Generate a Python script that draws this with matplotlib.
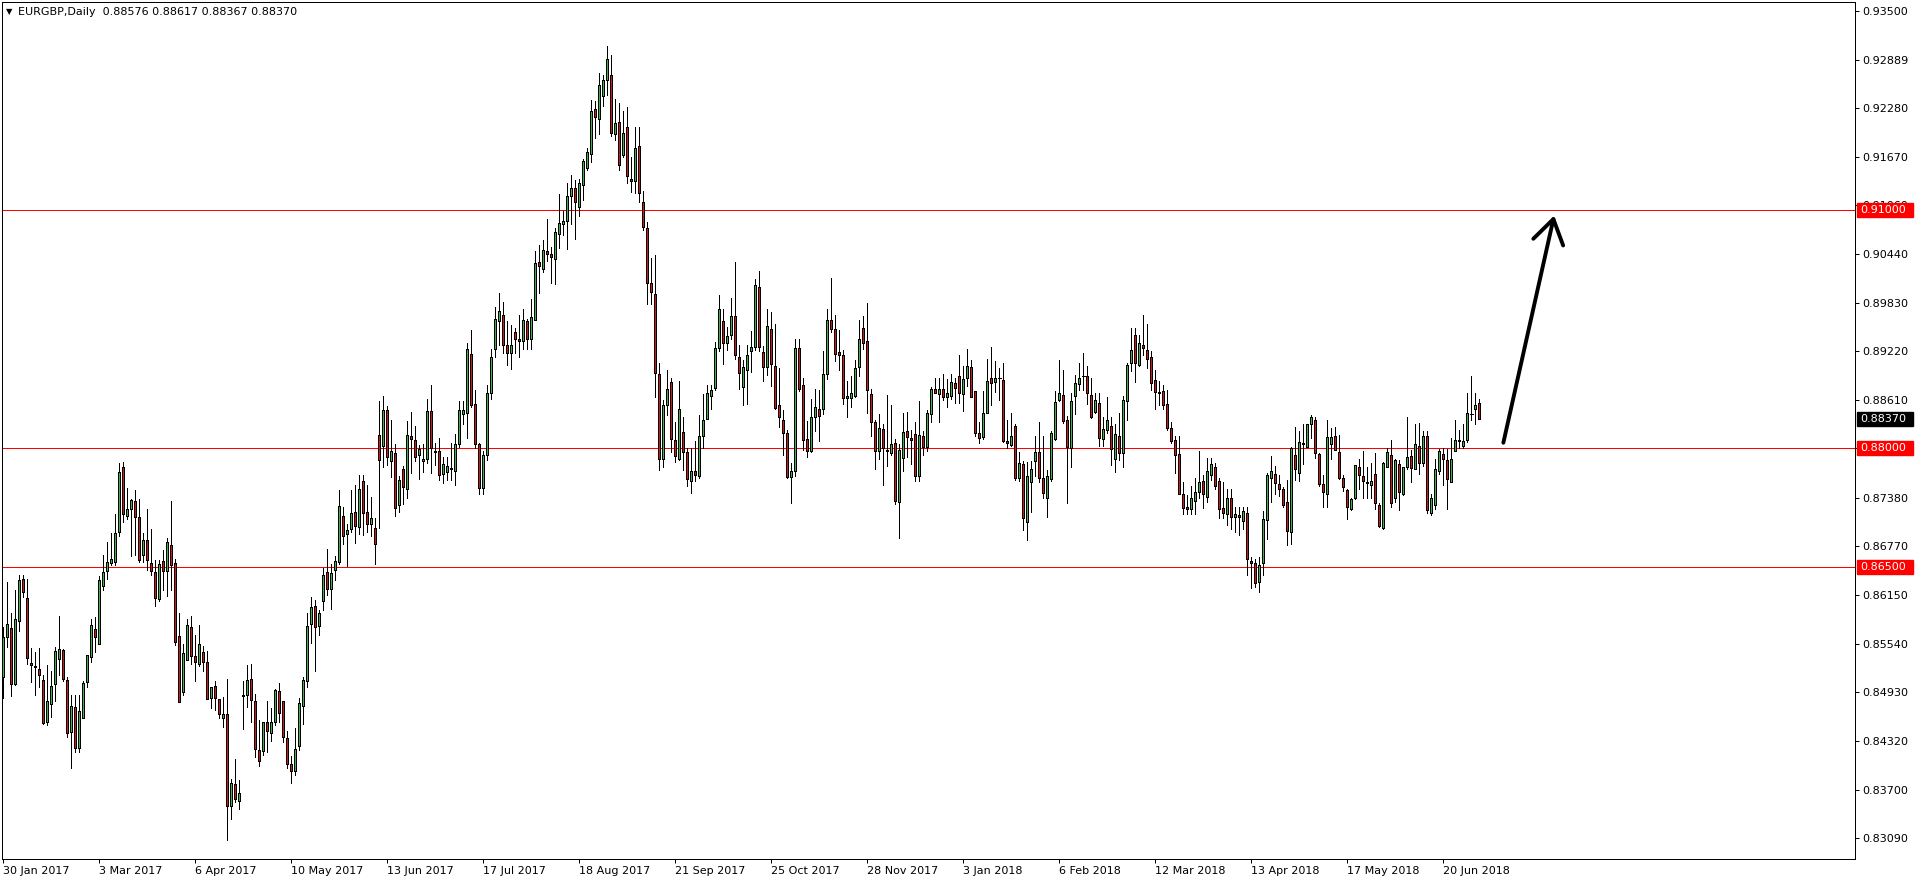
import numpy as np
import matplotlib.pyplot as plt
from matplotlib.patches import Rectangle
from matplotlib.transforms import blended_transform_factory

plt.rcParams['font.family'] = ['DejaVu Sans']

# --- EURGBP daily candles (30 Jan 2017 .. end Jun 2018) ---
opens = [
    .8512, .8562, .8574, .8503, .8583, .8635, .8611, .8530, .8526, .8522,
    .8508, .8456, .8478, .8503, .8535, .8546, .8508, .8443, .8474, .8423,
    .8461, .8506, .8537, .8572, .8553, .8626, .8645, .8656, .8657, .8694,
    .8776, .8715, .8723, .8734, .8713, .8666, .8684, .8656, .8644, .8610,
    .8658, .8646, .8678, .8655, .8564, .8493, .8534, .8575, .8538, .8528,
    .8543, .8531, .8485, .8501, .8484, .8461, .8465, .8349, .8377, .8356,
    .8488, .8490, .8509, .8482, .8420, .8419, .8455, .8442, .8455, .8494,
    .8482, .8435, .8402, .8394, .8425, .8476, .8507, .8579, .8601, .8576,
    .8608, .8644, .8623, .8647, .8657, .8715, .8692, .8698, .8720, .8701,
    .8759, .8720, .8705, .8700, .8817, .8803, .8848, .8784, .8794, .8728,
    .8774, .8749, .8815, .8811, .8792, .8784, .8786, .8847, .8797, .8796,
    .8768, .8770, .8775, .8772, .8805, .8843, .8845, .8919, .8856, .8806,
    .8750, .8792, .8870, .8925, .8960, .8968, .8930, .8920, .8946, .8938,
    .8935, .8960, .8938, .8962, .9035, .9026, .9048, .9044, .9038, .9070,
    .9083, .9086, .9118, .9128, .9104, .9132, .9153, .9170, .9227, .9215,
    .9244, .9264, .9270, .9196, .9211, .9169, .9204, .9139, .9137, .9181,
    .9110, .9077, .9008, .8994, .8893, .8786, .8854, .8883, .8811, .8786,
    .8820, .8795, .8759, .8771, .8765, .8816, .8837, .8866, .8876, .8926,
    .8960, .8932, .8943, .8967, .8915, .8877, .8899, .8922, .8927, .9003,
    .8921, .8902, .8950, .8904, .8855, .8835, .8819, .8764, .8771, .8926,
    .8880, .8812, .8797, .8839, .8850, .8849, .8894, .8961, .8950, .8921,
    .8918, .8863, .8863, .8866, .8902, .8951, .8935, .8868, .8833, .8796,
    .8824, .8798, .8794, .8807, .8733, .8788, .8822, .8813, .8818, .8765,
    .8816, .8801, .8843, .8875, .8868, .8875, .8864, .8866, .8882, .8891,
    .8868, .8888, .8902, .8872, .8819, .8814, .8844, .8889, .8883, .8889,
    .8886, .8809, .8804, .8828, .8763, .8780, .8707, .8758, .8784, .8795,
    .8763, .8738, .8761, .8812, .8861, .8867, .8836, .8800, .8866, .8881,
    .8891, .8891, .8867, .8846, .8857, .8812, .8823, .8828, .8787, .8816,
    .8794, .8860, .8907, .8943, .8905, .8930, .8924, .8915, .8886, .8871,
    .8872, .8856, .8826, .8811, .8793, .8743, .8726, .8724, .8734, .8745,
    .8759, .8739, .8766, .8776, .8759, .8725, .8717, .8738, .8713, .8716,
    .8708, .8718, .8658, .8656, .8632, .8655, .8710, .8763, .8768, .8755,
    .8749, .8732, .8695, .8792, .8769, .8805, .8801, .8830, .8836, .8793,
    .8755, .8742, .8806, .8815, .8795, .8763, .8748, .8724, .8738, .8776,
    .8765, .8758, .8754, .8768, .8729, .8700, .8776, .8792, .8737, .8780,
    .8743, .8776, .8790, .8774, .8803, .8781, .8815, .8719, .8728, .8771,
    .8793, .8785, .8758, .8796, .8809, .8803, .8810, .8843, .8850, .88576,
]
highs = [
    .8575, .8632, .8592, .8622, .8640, .8641, .8636, .8548, .8544, .8548,
    .8514, .8527, .8519, .8550, .8589, .8547, .8512, .8489, .8490, .8489,
    .8507, .8540, .8585, .8587, .8639, .8666, .8682, .8693, .8717, .8781,
    .8783, .8750, .8736, .8748, .8736, .8693, .8724, .8698, .8659, .8659,
    .8672, .8687, .8734, .8660, .8593, .8554, .8585, .8589, .8565, .8577,
    .8551, .8545, .8499, .8507, .8484, .8487, .8509, .8384, .8409, .8382,
    .8507, .8527, .8528, .8491, .8458, .8456, .8482, .8473, .8497, .8505,
    .8482, .8444, .8413, .8448, .8485, .8512, .8593, .8613, .8609, .8597,
    .8649, .8673, .8654, .8665, .8748, .8726, .8705, .8747, .8754, .8766,
    .8766, .8754, .8739, .8712, .8859, .8866, .8853, .8836, .8806, .8765,
    .8778, .8834, .8846, .8828, .8804, .8806, .8862, .8880, .8807, .8813,
    .8789, .8789, .8807, .8818, .8860, .8859, .8933, .8949, .8873, .8807,
    .8796, .8880, .8925, .8978, .8996, .8984, .8960, .8955, .8951, .8968,
    .8976, .8963, .8988, .9049, .9056, .9062, .9089, .9054, .9077, .9120,
    .9099, .9134, .9144, .9138, .9139, .9164, .9178, .9238, .9237, .9272,
    .9270, .9306, .9295, .9240, .9235, .9225, .9230, .9167, .9204, .9204,
    .9124, .9085, .9040, .9043, .8908, .8861, .8898, .8889, .8833, .8885,
    .8840, .8800, .8800, .8809, .8842, .8868, .8880, .8880, .8934, .8993,
    .8976, .8953, .8989, .9034, .8930, .8911, .8930, .8948, .9013, .9023,
    .8929, .8975, .8971, .8956, .8901, .8848, .8823, .8782, .8938, .8938,
    .8888, .8834, .8862, .8875, .8873, .8922, .8975, .9014, .8968, .8949,
    .8924, .8885, .8891, .8911, .8962, .8966, .8983, .8875, .8835, .8843,
    .8830, .8867, .8854, .8812, .8805, .8844, .8846, .8823, .8833, .8859,
    .8822, .8848, .8877, .8889, .8889, .8893, .8887, .8893, .8889, .8918,
    .8903, .8925, .8911, .8872, .8833, .8872, .8913, .8927, .8910, .8901,
    .8908, .8836, .8845, .8831, .8795, .8784, .8783, .8784, .8815, .8833,
    .8815, .8773, .8822, .8872, .8911, .8899, .8841, .8870, .8892, .8908,
    .8920, .8903, .8889, .8869, .8869, .8839, .8864, .8839, .8831, .8844,
    .8866, .8908, .8952, .8951, .8943, .8968, .8957, .8922, .8899, .8885,
    .8880, .8873, .8833, .8815, .8815, .8758, .8741, .8752, .8762, .8796,
    .8766, .8788, .8788, .8781, .8763, .8757, .8749, .8749, .8726, .8726,
    .8726, .8726, .8663, .8661, .8663, .8721, .8769, .8790, .8778, .8767,
    .8751, .8760, .8801, .8827, .8822, .8831, .8830, .8842, .8839, .8794,
    .8766, .8836, .8825, .8827, .8817, .8766, .8749, .8738, .8779, .8787,
    .8796, .8776, .8781, .8794, .8731, .8783, .8800, .8810, .8787, .8785,
    .8776, .8839, .8798, .8831, .8832, .8822, .8822, .8743, .8786, .8799,
    .8800, .8799, .8813, .8836, .8823, .8830, .8870, .8891, .8869, .88617,
]
lows = [
    .8485, .8550, .8488, .8502, .8570, .8613, .8529, .8506, .8489, .8499,
    .8453, .8451, .8462, .8482, .8514, .8507, .8437, .8398, .8418, .8418,
    .8461, .8500, .8531, .8544, .8553, .8621, .8635, .8653, .8653, .8689,
    .8707, .8711, .8664, .8666, .8657, .8657, .8647, .8640, .8602, .8608,
    .8621, .8614, .8621, .8552, .8481, .8490, .8534, .8529, .8507, .8526,
    .8519, .8484, .8473, .8471, .8461, .8449, .8307, .8333, .8355, .8346,
    .8447, .8474, .8455, .8411, .8400, .8414, .8418, .8432, .8452, .8455,
    .8430, .8397, .8379, .8389, .8420, .8453, .8500, .8555, .8520, .8565,
    .8596, .8615, .8598, .8634, .8654, .8679, .8652, .8694, .8681, .8692,
    .8691, .8695, .8690, .8654, .8700, .8777, .8779, .8764, .8715, .8720,
    .8730, .8737, .8769, .8784, .8761, .8770, .8781, .8769, .8779, .8760,
    .8756, .8760, .8760, .8754, .8802, .8831, .8813, .8852, .8800, .8743,
    .8743, .8785, .8862, .8915, .8930, .8920, .8905, .8900, .8920, .8915,
    .8925, .8925, .8925, .8961, .8996, .9022, .9036, .9008, .9007, .9052,
    .9069, .9051, .9083, .9063, .9092, .9112, .9151, .9161, .9191, .9196,
    .9231, .9245, .9193, .9188, .9151, .9167, .9134, .9123, .9121, .9110,
    .9075, .8982, .8982, .8865, .8773, .8777, .8842, .8795, .8783, .8785,
    .8773, .8752, .8744, .8759, .8763, .8800, .8837, .8849, .8874, .8923,
    .8906, .8924, .8938, .8913, .8875, .8855, .8856, .8896, .8924, .8923,
    .8885, .8892, .8879, .8850, .8827, .8791, .8763, .8731, .8765, .8872,
    .8798, .8789, .8795, .8822, .8809, .8843, .8887, .8947, .8910, .8898,
    .8856, .8840, .8852, .8865, .8891, .8925, .8845, .8816, .8774, .8787,
    .8754, .8778, .8791, .8730, .8687, .8771, .8789, .8780, .8759, .8759,
    .8791, .8796, .8833, .8869, .8833, .8861, .8852, .8862, .8857, .8857,
    .8847, .8879, .8864, .8816, .8807, .8812, .8844, .8854, .8871, .8861,
    .8808, .8800, .8803, .8760, .8759, .8697, .8685, .8720, .8765, .8757,
    .8738, .8714, .8759, .8811, .8859, .8832, .8731, .8777, .8843, .8873,
    .8873, .8856, .8838, .8844, .8803, .8803, .8819, .8779, .8770, .8785,
    .8777, .8836, .8897, .8884, .8903, .8918, .8901, .8873, .8849, .8854,
    .8850, .8823, .8807, .8769, .8742, .8717, .8717, .8717, .8717, .8738,
    .8725, .8732, .8760, .8749, .8712, .8712, .8703, .8699, .8695, .8691,
    .8698, .8641, .8624, .8625, .8619, .8641, .8686, .8733, .8742, .8740,
    .8726, .8678, .8680, .8760, .8759, .8780, .8801, .8813, .8788, .8752,
    .8726, .8726, .8787, .8798, .8761, .8746, .8711, .8722, .8736, .8749,
    .8738, .8738, .8737, .8724, .8701, .8698, .8776, .8726, .8733, .8722,
    .8741, .8774, .8757, .8774, .8768, .8778, .8718, .8716, .8724, .8768,
    .8754, .8724, .8758, .8796, .8800, .8800, .8808, .8835, .8831, .88367,
]
closes = [
    .8562, .8579, .8503, .8585, .8634, .8619, .8536, .8527, .8525, .8515,
    .8454, .8482, .8501, .8545, .8547, .8510, .8442, .8475, .8423, .8469,
    .8505, .8540, .8577, .8562, .8634, .8644, .8657, .8661, .8693, .8770,
    .8717, .8724, .8735, .8713, .8659, .8684, .8659, .8645, .8611, .8654,
    .8646, .8682, .8653, .8556, .8481, .8542, .8577, .8538, .8531, .8554,
    .8531, .8484, .8499, .8485, .8466, .8466, .8349, .8378, .8359, .8366,
    .8490, .8508, .8483, .8421, .8406, .8455, .8444, .8455, .8496, .8467,
    .8436, .8402, .8394, .8422, .8479, .8508, .8576, .8600, .8575, .8592,
    .8641, .8623, .8643, .8658, .8727, .8690, .8697, .8719, .8702, .8749,
    .8719, .8705, .8712, .8680, .8785, .8848, .8789, .8796, .8725, .8760,
    .8751, .8817, .8812, .8789, .8799, .8787, .8847, .8800, .8795, .8766,
    .8780, .8778, .8774, .8805, .8848, .8848, .8925, .8855, .8806, .8750,
    .8792, .8870, .8915, .8963, .8973, .8930, .8920, .8930, .8938, .8935,
    .8961, .8938, .8965, .9033, .9030, .9050, .9044, .9041, .9072, .9084,
    .9086, .9118, .9128, .9110, .9134, .9162, .9173, .9225, .9217, .9258,
    .9264, .9290, .9197, .9209, .9157, .9197, .9143, .9136, .9178, .9121,
    .9079, .9008, .8997, .8895, .8787, .8854, .8875, .8812, .8790, .8849,
    .8795, .8761, .8771, .8767, .8815, .8835, .8869, .8874, .8926, .8975,
    .8933, .8942, .8967, .8917, .8895, .8902, .8917, .8927, .9006, .8928,
    .8902, .8954, .8906, .8851, .8840, .8819, .8764, .8771, .8926, .8875,
    .8811, .8797, .8839, .8852, .8841, .8894, .8961, .8950, .8919, .8918,
    .8863, .8866, .8870, .8901, .8937, .8932, .8874, .8833, .8797, .8826,
    .8800, .8796, .8806, .8734, .8798, .8821, .8814, .8810, .8765, .8817,
    .8801, .8844, .8875, .8869, .8875, .8865, .8870, .8883, .8876, .8869,
    .8887, .8904, .8865, .8819, .8813, .8844, .8885, .8882, .8889, .8889,
    .8809, .8807, .8815, .8763, .8782, .8712, .8765, .8774, .8795, .8763,
    .8744, .8765, .8819, .8858, .8870, .8834, .8801, .8860, .8882, .8889,
    .8891, .8869, .8839, .8861, .8813, .8824, .8835, .8799, .8818, .8794,
    .8861, .8905, .8924, .8907, .8932, .8926, .8913, .8882, .8871, .8870,
    .8854, .8826, .8809, .8792, .8743, .8725, .8723, .8738, .8745, .8757,
    .8742, .8772, .8780, .8753, .8724, .8718, .8738, .8713, .8717, .8713,
    .8721, .8661, .8656, .8631, .8653, .8711, .8766, .8772, .8756, .8749,
    .8728, .8696, .8800, .8774, .8808, .8807, .8830, .8839, .8794, .8755,
    .8745, .8814, .8814, .8798, .8762, .8751, .8726, .8736, .8779, .8766,
    .8759, .8756, .8759, .8731, .8702, .8781, .8795, .8731, .8785, .8745,
    .8776, .8789, .8775, .8805, .8781, .8815, .8722, .8738, .8774, .8797,
    .8787, .8761, .8786, .8811, .8810, .8809, .8845, .8843, .8854, .88370,
]

date_labels = ["30 Jan 2017", "3 Mar 2017", "6 Apr 2017", "10 May 2017",
               "13 Jun 2017", "17 Jul 2017", "18 Aug 2017", "21 Sep 2017",
               "25 Oct 2017", "28 Nov 2017", "3 Jan 2018", "6 Feb 2018",
               "12 Mar 2018", "13 Apr 2018", "17 May 2018", "20 Jun 2018"]
date_label_bars = [0, 24, 48, 72, 96, 120, 144, 168, 192, 216, 240, 264,
                   288, 312, 336, 360]
price_ticks = [0.93500, 0.92889, 0.92280, 0.91670, 0.91060, 0.90440, 0.89830,
               0.89220, 0.88610, 0.88000, 0.87380, 0.86770, 0.86150, 0.85540,
               0.84930, 0.84320, 0.83700, 0.83090]
level_prices = [0.91000, 0.88000, 0.86500]
header = "EURGBP,Daily  0.88576 0.88617 0.88367 0.88370"
arrow_tail = (375.0, 0.8807)
arrow_head = (387.7, 0.9093)

bull = '#3cb44a'
bear = '#d01818'
px = 0.72  # one screen pixel in points

o = np.array(opens)
h = np.array(highs)
l = np.array(lows)
c = np.array(closes)
x = np.arange(len(o))

fig = plt.figure(figsize=(19.16, 8.84), dpi=100)
ax = fig.add_axes([2 / 1916, 25 / 884, 1853 / 1916, 857 / 884])
ax.set_xlim(-0.3, 462.9)
ax.set_ylim(0.82829, 0.93619)

for lvl in level_prices:
    ax.axhline(lvl, color='red', lw=px, zorder=1, antialiased=False)

# wicks, then bodies (MT4 draws without antialiasing)
ax.vlines(x, l, h, color='black', lw=px, zorder=2, antialiased=False)
up = c > o
dn = c < o
eq = c == o
ax.bar(x[up], (c - o)[up], bottom=o[up], width=0.5, color=bull,
       edgecolor='black', linewidth=px, zorder=3, antialiased=False)
ax.bar(x[dn], (o - c)[dn], bottom=c[dn], width=0.5, color=bear,
       edgecolor='black', linewidth=px, zorder=3, antialiased=False)
ax.hlines(o[eq], x[eq] - 0.4, x[eq] + 0.4, color='black', lw=px, zorder=3,
          antialiased=False)

# axes look (MT4 style)
for sp in ax.spines.values():
    sp.set_linewidth(px)
    sp.set_color('black')
ax.yaxis.tick_right()
ax.set_yticks(price_ticks)
ax.set_yticklabels([f"{t:.5f}" for t in price_ticks])
ax.tick_params(axis='y', direction='out', length=3, width=px, pad=2, labelsize=8)
ax.set_xticks(date_label_bars)
ax.set_xticklabels(date_labels, ha='left')
ax.tick_params(axis='x', direction='out', length=3, width=px, pad=2, labelsize=8)

# price tags on the right scale
tr = blended_transform_factory(ax.transAxes, ax.transData)
tag_w = 56 / 1853
tag_h = 0.00176
for price, col in [(lvl, 'red') for lvl in level_prices] + [(c[-1], 'black')]:
    ax.add_patch(Rectangle((1.001, price - tag_h / 2), tag_w, tag_h, transform=tr,
                           facecolor=col, edgecolor=col, clip_on=False, zorder=10))
    ax.text(1.003, price, f"{price:.5f}", transform=tr, color='white', fontsize=8,
            va='center', ha='left', clip_on=False, zorder=11)

ax.annotate('', xy=arrow_head, xytext=arrow_tail,
            arrowprops=dict(arrowstyle='->,head_length=1.7,head_width=1.1',
                            color='black', lw=2.8, shrinkA=0, shrinkB=0))

fig.text(6 / 1916, 1 - 12 / 884, '▼', fontsize=6, va='center', ha='left')
fig.text(18 / 1916, 1 - 12 / 884, header, fontsize=8, va='center', ha='left')

fig.savefig('out.png', dpi=100)
